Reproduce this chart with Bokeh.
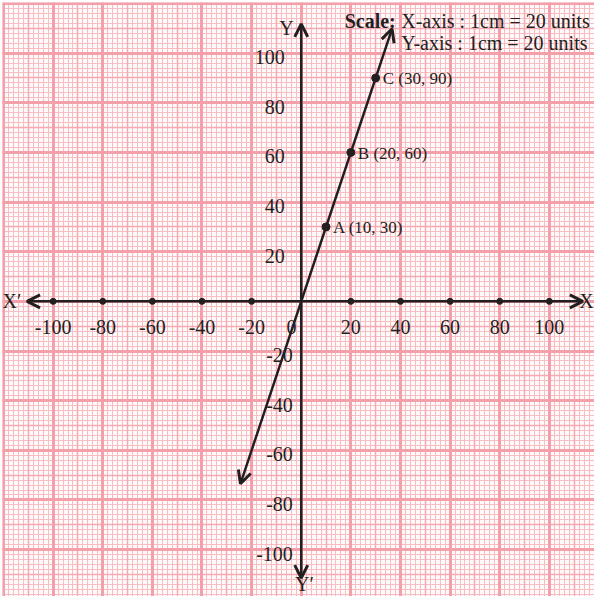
import numpy as np
from bokeh.plotting import figure
from bokeh.models import (Arrow, OpenHead, Label, Grid, FixedTicker, Range1d)
from bokeh.core.properties import value
from bokeh.embed import file_html
from bokeh.resources import INLINE

# ---- data ----
x_ticks = [-100, -80, -60, -40, -20, 20, 40, 60, 80, 100]
x_tick_labels = ["-100", "-80", "-60", "-40", "-20", "20", "40", "60", "80", "100"]
y_ticks = [100, 80, 60, 40, 20, -20, -40, -60, -80, -100]
y_tick_labels = ["100", "80", "60", "40", "20", "-20", "-40", "-60", "-80", "-100"]
pt_names = ["A", "B", "C"]
pt_x = [10, 20, 30]
pt_y = [30, 60, 90]
line_x = [-24.5, 36.6]   # ends of the drawn line y = 3x
line_y = [-73.5, 109.8]
x_axis_ends = [-110.5, 113.5]
y_axis_ends = [-111.5, 111.8]

FONT = "Liberation Serif"
INK = "#231f20"

p = figure(width=594, height=596, x_range=Range1d(-120.4, 118.2),
           y_range=Range1d(-118.9, 120.4), output_backend="svg",
           toolbar_location=None, x_axis_location=None, y_axis_location=None,
           min_border_left=2, min_border_top=2, min_border_right=0,
           min_border_bottom=0, background_fill_color="#fffafa",
           border_fill_color="white", outline_line_color=None)

# graph-paper grid
fine = [float(v) for v in np.arange(-130, 131, 2)]
medium = [float(v) for v in np.arange(-130, 131, 10)]
major = [float(v) for v in np.arange(-140, 141, 20)]
for ticks, col, w in [(fine, "#f8bcc3", 1), (medium, "#f5a9b2", 1.5), (major, "#f3a0aa", 3)]:
    for dim in (0, 1):
        p.add_layout(Grid(dimension=dim, ticker=FixedTicker(ticks=ticks),
                          grid_line_color=col, grid_line_width=w))

# axes with arrows
p.add_layout(Arrow(x_start=x_axis_ends[0], y_start=0, x_end=x_axis_ends[1], y_end=0,
                   line_color=INK, line_width=2.5,
                   start=OpenHead(size=13, line_width=3, line_color=INK),
                   end=OpenHead(size=13, line_width=3, line_color=INK)))
p.add_layout(Arrow(x_start=0, y_start=y_axis_ends[0], x_end=0, y_end=y_axis_ends[1],
                   line_color=INK, line_width=2.5,
                   start=OpenHead(size=13, line_width=3, line_color=INK),
                   end=OpenHead(size=13, line_width=3, line_color=INK)))

# the line with arrows at both ends
p.add_layout(Arrow(x_start=line_x[0], y_start=line_y[0], x_end=line_x[1], y_end=line_y[1],
                   line_color=INK, line_width=2.5,
                   start=OpenHead(size=13, line_width=3, line_color=INK),
                   end=OpenHead(size=13, line_width=3, line_color=INK)))

# tick dots on x axis
p.scatter(x_ticks, [0] * len(x_ticks), size=6, color=INK)

# x tick labels
p.text(x=x_ticks, y=[-10.3] * len(x_ticks), text=x_tick_labels,
       text_font=value(FONT), text_font_size="20px", text_color=INK,
       text_align="center", text_baseline="alphabetic")
p.text(x=[-3.9], y=[-10.3], text=["0"], text_font=value(FONT),
       text_font_size="20px", text_color=INK, text_align="center",
       text_baseline="alphabetic")

# y tick labels
ylx = [-6.6 if v > 0 else -3.4 for v in y_ticks]
yly = [v - 1.6 for v in y_ticks]
p.text(x=ylx, y=yly, text=y_tick_labels, text_font=value(FONT),
       text_font_size="20px", text_color=INK, text_align="right",
       text_baseline="alphabetic")

# points and their labels
p.scatter(pt_x, pt_y, size=8, color=INK)
pt_labels = [f"{n} ({a}, {b})" for n, a, b in zip(pt_names, pt_x, pt_y)]
p.text(x=pt_x, y=pt_y, text=pt_labels, x_offset=7, y_offset=1,
       text_font=value(FONT), text_font_size="17px", text_color=INK,
       text_align="left", text_baseline="middle")

# axis names
for txt, x, y, al in [("X\u2032", -120.4, 0, "left"), ("X", 117.9, 0, "right"),
                      ("Y", -5.9, 110.2, "center"), ("Y\u2032", 1.3, -113.8, "center")]:
    p.add_layout(Label(x=x, y=y, text=txt, text_font=FONT, text_font_size="20px",
                       text_color=INK, text_align=al, text_baseline="middle"))

# scale note
p.add_layout(Label(x=17.5, y=112.8, text="Scale:", text_font=FONT,
                   text_font_size="20px", text_font_style="bold", text_color=INK,
                   text_baseline="alphabetic"))
p.add_layout(Label(x=40.3, y=112.8, text="X-axis : 1cm = 20 units", text_font=FONT,
                   text_font_size="20px", text_color=INK, text_baseline="alphabetic"))
p.add_layout(Label(x=40.3, y=104.0, text="Y-axis :  1cm = 20 units", text_font=FONT,
                   text_font_size="20px", text_color=INK, text_baseline="alphabetic"))

open("out.html", "w").write(file_html(p, INLINE))
